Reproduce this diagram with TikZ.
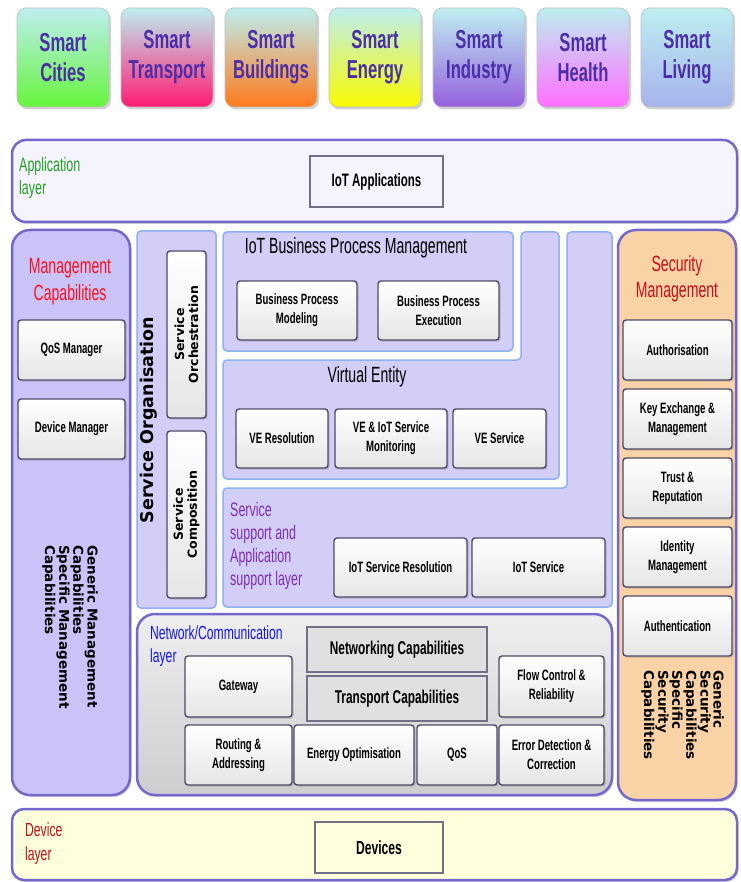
\documentclass[tikz,border=0pt]{standalone}
\usepackage{fontspec}
\setmainfont{Liberation Sans}[FakeStretch=0.64]
\newfontfamily\vfont{DejaVu Sans}
\usetikzlibrary{positioning}
\usetikzlibrary{shadows}
\definecolor{ink}{HTML}{4B2EA8}
\definecolor{tiletop}{HTML}{BDEFF0}
\definecolor{tcities}{HTML}{66F53C}
\definecolor{ttransport}{HTML}{FF1A73}
\definecolor{tbuildings}{HTML}{FF7A1A}
\definecolor{tenergy}{HTML}{FAFA00}
\definecolor{tindustry}{HTML}{9560DD}
\definecolor{thealth}{HTML}{FF6EFF}
\definecolor{tliving}{HTML}{A6B3EC}
\definecolor{panelline}{HTML}{7468CC}
\definecolor{boxline}{HTML}{4E4A6A}
\definecolor{paleblue}{HTML}{8DB1F2}
\definecolor{lavender}{HTML}{C9C3F7}
\definecolor{lilac}{HTML}{D3CEF5}
\definecolor{peach}{HTML}{F9D2A6}
\definecolor{appfill}{HTML}{F4F3FE}
\definecolor{devfill}{HTML}{FFFFDC}
\definecolor{netfill}{HTML}{E4E4E6}
\definecolor{appgreen}{HTML}{22A022}
\definecolor{netblue}{HTML}{1515F0}
\definecolor{sspurple}{HTML}{7E2DB5}
\definecolor{mgmtred}{HTML}{F51020}
\definecolor{darkred}{HTML}{C41018}
\tikzset{
  tile/.style={rounded corners=9pt,minimum width=92pt,minimum height=99pt,inner sep=0pt,outer sep=0pt,align=center,text=ink,draw=black!25,line width=0.6pt,top color=tiletop,font=\fontsize{26}{30}\selectfont\bfseries,drop shadow={shadow xshift=2pt,shadow yshift=-2.5pt,opacity=0.35}},
  panel/.style={draw=panelline,line width=2.5pt,rounded corners=16pt,inner sep=0pt,outer sep=0pt,drop shadow={shadow xshift=1.5pt,shadow yshift=-2pt,opacity=0.35}},
  area/.style={draw=paleblue,line width=1.5pt,fill=lilac,rounded corners=4pt},
  box/.style={draw=boxline,line width=1.4pt,rounded corners=3pt,top color=white,bottom color=black!10,inner sep=0pt,outer sep=0pt,align=center,font=\fontsize{15}{19}\selectfont\bfseries,drop shadow={shadow xshift=1.5pt,shadow yshift=-1.5pt,opacity=0.4}},
  flatbox/.style={draw=boxline!80,line width=1.5pt,inner sep=0pt,outer sep=0pt,align=center},
  vbox/.style={box,minimum width=39pt,minimum height=167pt},
  sbox/.style={box,minimum width=109pt,minimum height=60pt},
  vtxt/.style={rotate=90,align=center,inner sep=0pt,font=\vfont\fontsize{12.5}{14}\selectfont\bfseries},
  capstxt/.style={rotate=-90,anchor=north west,align=left,inner sep=0pt,font=\vfont\fontsize{13.5}{13}\selectfont\bfseries},
  lbl/.style={anchor=west,align=left,inner sep=0pt,font=\fontsize{19.5}{23}\selectfont},
  paneltitle/.style={inner sep=0pt,font=\fontsize{22}{24}\selectfont}
}

\begin{document}
\begin{tikzpicture}[x=1pt,y=-1pt]
\useasboundingbox (0,0) rectangle (740,882);
\node (cities)    [tile,bottom color=tcities] at (63,57.5)     {Smart\\Cities};
\node (transport) [tile,bottom color=ttransport,right=12pt of cities]    {Smart\\Transport};
\node (buildings) [tile,bottom color=tbuildings,right=12pt of transport] {Smart\\Buildings};
\node (energy)    [tile,bottom color=tenergy,right=12pt of buildings]    {Smart\\Energy};
\node (industry)  [tile,bottom color=tindustry,right=12pt of energy]     {Smart\\Industry};
\node (health)    [tile,bottom color=thealth,right=12pt of industry]     {Smart\\Health};
\node (living)    [tile,bottom color=tliving,right=12pt of health]       {Smart\\Living};

\node (app)  [panel,fill=appfill,rounded corners=14pt,minimum width=725pt,minimum height=82pt] at (374.5,181) {};
\node (mgmt) [panel,fill=lavender,rounded corners=18pt,minimum width=118pt,minimum height=565pt] at (71,512.5) {};
\node (sec)  [panel,fill=peach,rounded corners=18pt,minimum width=118pt,minimum height=570pt] at (677,515) {};
\node (net)  [panel,top color=netfill!60!white,bottom color=netfill!90!black,rounded corners=18pt,minimum width=475pt,minimum height=181pt] at (374.5,704.5) {};
\node (dev)  [panel,fill=devfill,rounded corners=12pt,minimum width=725pt,minimum height=71pt] at (374.5,844.5) {};

\draw [area] (137,231) rectangle (216,608);
\draw [area] (567,232) -- (612,232) -- (612,607) -- (223,607) -- (223,488) -- (567,488) -- cycle;
\draw [area] (521,232) -- (559,232) -- (559,479) -- (223,479) -- (223,360) -- (521,360) -- cycle;
\draw [area] (223,232) rectangle (513,351);

\node (applbl) [lbl,text=appgreen] at (19,178) {Application\\layer};
\node (iotapps) [flatbox,fill=appfill,minimum width=133pt,minimum height=51pt,font=\fontsize{18}{20}\selectfont\bfseries] at (376.5,181.5) {IoT Applications};

\node (mgmtlbl) [lbl,anchor=center,align=center,text=mgmtred,font=\fontsize{22}{27}\selectfont] at (70,281.5) {Management\\Capabilities};
\node (qosmgr) [box,minimum width=107pt,minimum height=60pt] at (71.5,350) {QoS Manager};
\node (devmgr) [box,minimum width=107pt,minimum height=60pt] at (71.5,429) {Device Manager};
\node (mgmtcaps) [capstxt] at (98,545) {Generic Management\\Capabilities\\Specific Management\\Capabilities};

\node (seclbl) [lbl,anchor=center,align=center,text=darkred,font=\fontsize{22}{26}\selectfont] at (677,279) {Security\\Management};
\node (authz) [sbox] at (677.5,350) {Authorisation};
\node (keyex) [sbox,below=9pt of authz] {Key Exchange \&\\Management};
\node (trust) [sbox,below=9pt of keyex] {Trust \&\\Reputation};
\node (ident) [sbox,below=9pt of trust] {Identity\\Management};
\node (authn) [sbox,below=9pt of ident] {Authentication};
\node (seccaps) [capstxt,font=\vfont\fontsize{13.5}{12.9}\selectfont\bfseries] at (724,670) {Generic\\Security\\Capabilities\\Specific\\Security\\Capabilities};

\node (sorg) [rotate=90,inner sep=0pt,font=\vfont\fontsize{17.5}{20}\selectfont\bfseries] at (149,420) {Service Organisation};
\node (orch) [vbox] at (186.5,334.5) {};
\node (orchtxt) [vtxt] at (orch) {Service\\Orchestration};
\node (comp) [vbox] at (186.5,514.5) {};
\node (comptxt) [vtxt] at (comp) {Service\\Composition};

\node (bpm) [paneltitle] at (356,248) {IoT Business Process Management};
\node (bpmodel) [box,minimum width=120pt,minimum height=59pt] at (297,310.5) {Business Process\\Modeling};
\node (bpexec) [box,minimum width=121pt,minimum height=59pt] at (438.5,310.5) {Business Process\\Execution};

\node (ve) [paneltitle] at (367,377) {Virtual Entity};
\node (veres) [box,minimum width=92pt,minimum height=59pt] at (282,438.5) {VE Resolution};
\node (vemon) [box,minimum width=112pt,minimum height=59pt] at (391,438.5) {VE \& IoT Service\\Monitoring};
\node (vesvc) [box,minimum width=93pt,minimum height=59pt] at (499.5,438.5) {VE Service};

\node (sslbl) [lbl,text=sspurple] at (230,545.5) {Service\\support and\\Application\\support layer};
\node (iotres) [box,minimum width=133pt,minimum height=59pt] at (400.5,567.5) {IoT Service Resolution};
\node (iotsvc) [box,minimum width=133pt,minimum height=59pt] at (538.5,567.5) {IoT Service};

\node (netlbl) [lbl,text=netblue,font=\fontsize{19}{23}\selectfont] at (150,646.5) {Network/Communication\\layer};
\node (netcap) [flatbox,fill=black!12,minimum width=180pt,minimum height=45pt,font=\fontsize{18.5}{20}\selectfont\bfseries] at (397,649.5) {Networking Capabilities};
\node (trcap) [flatbox,fill=black!12,minimum width=180pt,minimum height=45pt,font=\fontsize{18.5}{20}\selectfont\bfseries] at (397,698.5) {Transport Capabilities};
\node (gateway) [box,minimum width=107pt,minimum height=61pt] at (238.5,686.5) {Gateway};
\node (routing) [box,minimum width=107pt,minimum height=60pt] at (238.5,755) {Routing \&\\Addressing};
\node (energyopt) [box,minimum width=120pt,minimum height=60pt] at (354,755) {Energy Optimisation};
\node (netqos) [box,minimum width=80pt,minimum height=60pt] at (457,755) {QoS};
\node (flow) [box,minimum width=105pt,minimum height=61pt] at (551.5,686.5) {Flow Control \&\\Reliability};
\node (errdet) [box,minimum width=105pt,minimum height=60pt] at (551.5,755) {Error Detection \&\\Correction};

\node (devlbl) [lbl,text=darkred,font=\fontsize{19}{24}\selectfont] at (25,844) {Device\\layer};
\node (devices) [flatbox,fill=devfill,minimum width=128pt,minimum height=51pt,font=\fontsize{19}{20}\selectfont\bfseries] at (379,847.5) {Devices};
\end{tikzpicture}
\end{document}
